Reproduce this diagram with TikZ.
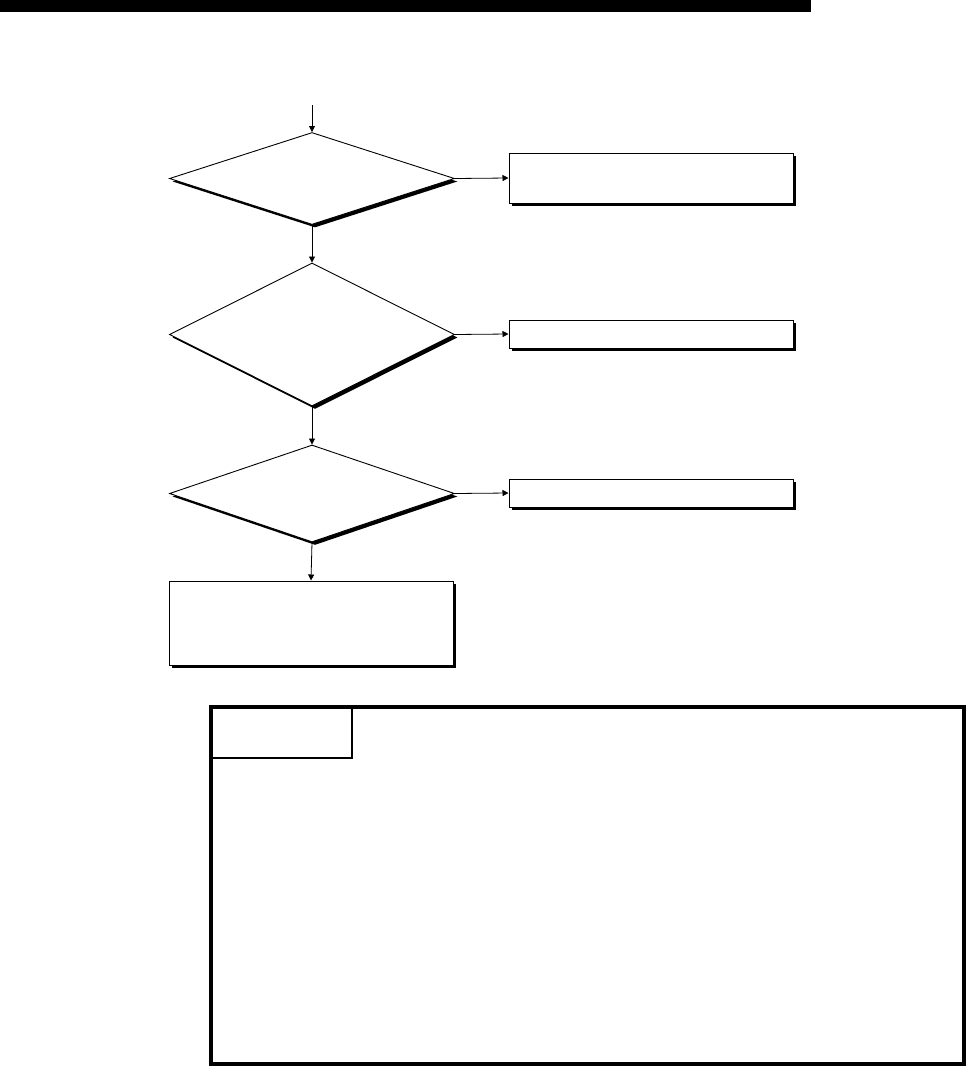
\documentclass[tikz,border=0pt]{standalone}
\usetikzlibrary{shapes.geometric,shadows,arrows.meta}
\begin{document}
\begin{tikzpicture}[x=1pt,y=-1pt,
  dec/.style={diamond,draw,fill=white,line width=0.9pt,inner sep=0pt,minimum width=285pt,
    drop shadow={shadow xshift=3pt,shadow yshift=-3pt,opacity=1,fill=black}},
  procbox/.style={rectangle,draw,fill=white,line width=1pt,inner sep=0pt,minimum width=284pt,
    drop shadow={shadow xshift=3pt,shadow yshift=-3pt,opacity=1,fill=black}},
  flow/.style={line width=0.8pt,-{Triangle[length=6pt,width=6pt]}}]
\useasboundingbox (0,0) rectangle (966,1068);
\fill (0,0) rectangle (811,12);
\coordinate (start) at (312,105);
\node[dec,minimum height=92pt] (d1) at (312,178.5) {};
\node[dec,minimum height=143pt] (d2) at (312,334.5) {};
\node[dec,minimum height=97pt] (d3) at (312,493.5) {};
\node[procbox,minimum height=50pt] (b1) at (651,178) {};
\node[procbox,minimum height=28pt] (b2) at (651,334) {};
\node[procbox,minimum height=28pt] (b3) at (651,493) {};
\node[procbox,minimum height=84pt] (b4) at (311,623) {};
\draw[flow] (start) -- (d1.north);
\draw[flow] (d1.south) -- (d2.north);
\draw[flow] (d2.south) -- (d3.north);
\draw[flow] (d3.south) -- (b4.north);
\draw[flow] (d1.east) -- (b1.west);
\draw[flow] (d2.east) -- (b2.west);
\draw[flow] (d3.east) -- (b3.west);
\draw[line width=4pt] (211,707) rectangle (964,1064);
\draw[line width=2pt] (211,707) -- (352,707) -- (352,758) -- (211,758);
\end{tikzpicture}
\end{document}
